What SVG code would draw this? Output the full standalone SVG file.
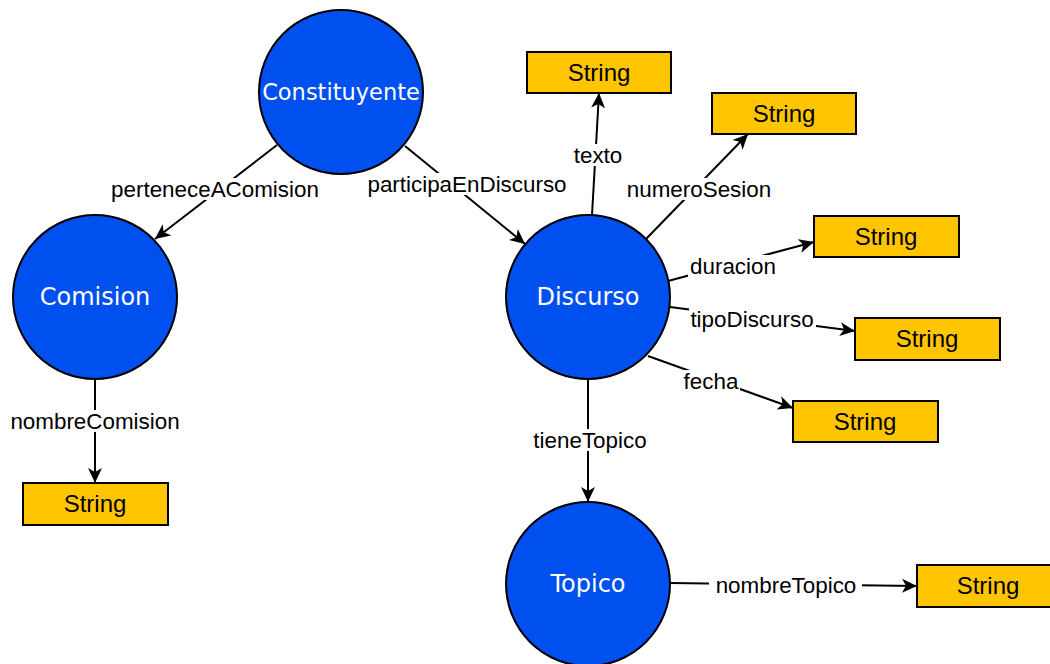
<svg xmlns="http://www.w3.org/2000/svg" width="1050" height="664" viewBox="0 0 1050 664">
<style>
.cls{fill:#0050ef;stroke:#000;stroke-width:2}
.ctext{font-family:"DejaVu Sans",Verdana,sans-serif;font-size:24px;fill:#fff;text-anchor:middle}
.lit{fill:#ffc500;stroke:#000;stroke-width:2}
.ltext{font-family:"Liberation Sans",Arial,sans-serif;font-size:24px;fill:#000;text-anchor:middle}
.edge{stroke:#000;stroke-width:2;fill:none;marker-end:url(#arr)}
.lbg{fill:#fff}
.lbl{font-family:"Liberation Sans",Arial,sans-serif;font-size:22.4px;fill:#000;text-anchor:middle}
</style>
<defs>
<marker id="arr" markerUnits="userSpaceOnUse" markerWidth="16" markerHeight="16" viewBox="0 0 16 16" refX="15" refY="8" orient="auto">
<path d="M15,8 L0,1 L4,8 L0,15 z" fill="#000"/>
</marker>
</defs>
<rect width="1050" height="664" fill="#fff"/>
<g id="connectors">
<g id="e-perteneceAComision"><line class="edge" x1="277" y1="145" x2="155" y2="239"/><rect class="lbg" x="108" y="178" width="214" height="22"/><text class="lbl" x="215" y="197">perteneceAComision</text></g>
<g id="e-participaEnDiscurso"><line class="edge" x1="405" y1="146" x2="525" y2="244"/><rect class="lbg" x="364" y="173" width="207" height="22"/><text class="lbl" x="467" y="192">participaEnDiscurso</text></g>
<g id="e-texto"><line class="edge" x1="592" y1="215" x2="599" y2="93"/><rect class="lbg" x="571" y="144" width="54" height="22"/><text class="lbl" x="598" y="163">texto</text></g>
<g id="e-numeroSesion"><line class="edge" x1="646" y1="239" x2="748" y2="134"/><rect class="lbg" x="625" y="178" width="150" height="22"/><text class="lbl" x="699" y="197">numeroSesion</text></g>
<g id="e-duracion"><line class="edge" x1="668" y1="281" x2="814" y2="242"/><rect class="lbg" x="688" y="255" width="91" height="22"/><text class="lbl" x="733" y="274">duracion</text></g>
<g id="e-tipoDiscurso"><line class="edge" x1="670" y1="307" x2="855" y2="331"/><rect class="lbg" x="689" y="308" width="127" height="22"/><text class="lbl" x="752" y="327">tipoDiscurso</text></g>
<g id="e-fecha"><line class="edge" x1="648" y1="356" x2="793" y2="408"/><rect class="lbg" x="683" y="370" width="57" height="22"/><text class="lbl" x="711" y="389">fecha</text></g>
<g id="e-tieneTopico"><line class="edge" x1="588" y1="379" x2="588" y2="502"/><rect class="lbg" x="530" y="429" width="120" height="22"/><text class="lbl" x="590" y="448">tieneTopico</text></g>
<g id="e-nombreComision"><line class="edge" x1="95" y1="379" x2="95" y2="483"/><rect class="lbg" x="9" y="410" width="173" height="22"/><text class="lbl" x="95" y="429">nombreComision</text></g>
<g id="e-nombreTopico"><line class="edge" x1="670" y1="583" x2="917" y2="586"/><rect class="lbg" x="709" y="574" width="153" height="22"/><text class="lbl" x="786" y="593">nombreTopico</text></g>
</g>
<g id="Constituyente"><circle class="cls" cx="341" cy="92" r="82"/><text class="ctext" x="341" y="100" style="font-size:22.5px">Constituyente</text></g>
<g id="Comision"><circle class="cls" cx="95" cy="297" r="82"/><text class="ctext" x="95" y="305">Comision</text></g>
<g id="Discurso"><circle class="cls" cx="588" cy="297" r="82"/><text class="ctext" x="588" y="305">Discurso</text></g>
<g id="Topico"><circle class="cls" cx="588" cy="584" r="82"/><text class="ctext" x="588" y="592">Topico</text></g>
<g id="String-texto"><rect class="lit" x="527" y="52" width="144" height="41"/><text class="ltext" x="599" y="81">String</text></g>
<g id="String-numeroSesion"><rect class="lit" x="712" y="93" width="144" height="41"/><text class="ltext" x="784" y="122">String</text></g>
<g id="String-duracion"><rect class="lit" x="814" y="216" width="145" height="41"/><text class="ltext" x="886" y="245">String</text></g>
<g id="String-tipoDiscurso"><rect class="lit" x="855" y="318" width="145" height="42"/><text class="ltext" x="927" y="347">String</text></g>
<g id="String-fecha"><rect class="lit" x="793" y="401" width="145" height="41"/><text class="ltext" x="865" y="430">String</text></g>
<g id="String-nombreComision"><rect class="lit" x="23" y="483" width="145" height="42"/><text class="ltext" x="95" y="512">String</text></g>
<g id="String-nombreTopico"><rect class="lit" x="917" y="565" width="145" height="42"/><text class="ltext" x="988" y="594">String</text></g>
</svg>
